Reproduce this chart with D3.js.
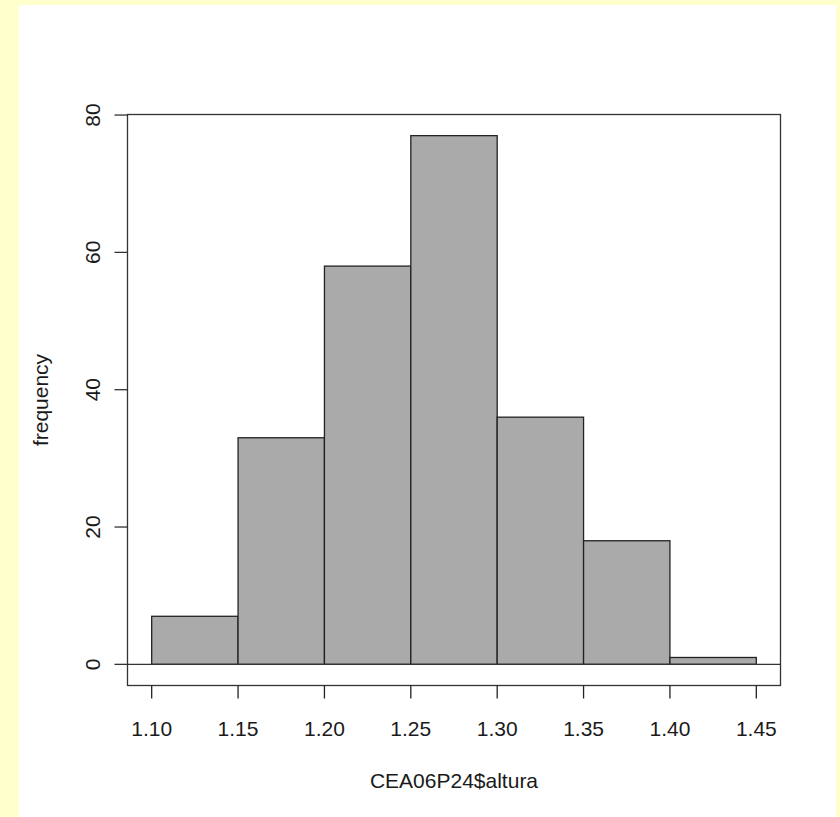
<!DOCTYPE html>
<html>
<head>
<meta charset="utf-8">
<script src="https://cdn.jsdelivr.net/npm/d3@7"></script>
<style>
  body { margin: 0; background: #ffffcc; }
  svg text { font-family: "Liberation Sans", Arial, sans-serif; fill: #1a1a1a; }
</style>
</head>
<body>
<svg id="hist"></svg>
<script>
// bin edges and counts of CEA06P24$altura
const binStarts = [1.10, 1.15, 1.20, 1.25, 1.30, 1.35, 1.40];
const binWidth = 0.05;
const counts = [7, 33, 58, 77, 36, 18, 1];
const xTicks = [1.10, 1.15, 1.20, 1.25, 1.30, 1.35, 1.40, 1.45];
const yTicks = [0, 20, 40, 60, 80];

const width = 840,
      height = 817,
      box = {left: 127.5, right: 780.5, top: 114.5, bottom: 685.5},
      svg = d3.select("#hist")
              .attr("width", width)
              .attr("height", height);

// yellow page with white panel
svg.append("rect").attr("width", width).attr("height", height).attr("fill", "#ffffcc");
svg.append("rect").attr("x", 19).attr("y", 5).attr("width", 817).attr("height", 812).attr("fill", "#ffffff");

// R style: limits stretched by 4%
const maxCount = d3.max(counts);
const xPad = (1.45 - 1.10) * 0.04,
      yPad = maxCount * 0.04;
const x = d3.scaleLinear().domain([1.10 - xPad, 1.45 + xPad]).range([box.left, box.right]);
const y = d3.scaleLinear().domain([-yPad, maxCount + yPad]).range([box.bottom, box.top]);

const bins = binStarts.map((b, i) => ({x0: b, x1: b + binWidth, n: counts[i]}));

svg.append("g").selectAll("rect")
    .data(bins)
    .enter().append("rect")
      .attr("x", (d) => x(d.x0))
      .attr("y", (d) => y(d.n))
      .attr("width", (d) => x(d.x1) - x(d.x0))
      .attr("height", (d) => y(0) - y(d.n))
      .attr("fill", "#aaaaaa")
      .attr("stroke", "#222")
      .attr("stroke-width", 1.3);

// baseline at zero
svg.append("line")
    .attr("x1", box.left).attr("x2", box.right)
    .attr("y1", y(0)).attr("y2", y(0))
    .attr("stroke", "#333").attr("stroke-width", 1.3);

// frame
svg.append("rect")
    .attr("x", box.left).attr("y", box.top)
    .attr("width", box.right - box.left).attr("height", box.bottom - box.top)
    .attr("fill", "none").attr("stroke", "#333").attr("stroke-width", 1.3);

// x axis
const xAxis = svg.append("g");
xAxis.selectAll("line")
    .data(xTicks)
    .enter().append("line")
      .attr("x1", (d) => x(d)).attr("x2", (d) => x(d))
      .attr("y1", box.bottom).attr("y2", box.bottom + 13)
      .attr("stroke", "#222").attr("stroke-width", 1.3);
xAxis.selectAll("text")
    .data(xTicks)
    .enter().append("text")
      .attr("x", (d) => x(d))
      .attr("y", 736)
      .attr("text-anchor", "middle")
      .style("font-size", "21px")
      .text(d3.format(".2f"));

// y axis
const yAxis = svg.append("g");
yAxis.selectAll("line")
    .data(yTicks)
    .enter().append("line")
      .attr("x1", box.left - 13).attr("x2", box.left)
      .attr("y1", (d) => y(d)).attr("y2", (d) => y(d))
      .attr("stroke", "#333").attr("stroke-width", 1.3);
yAxis.selectAll("text")
    .data(yTicks)
    .enter().append("text")
      .attr("transform", (d) => `translate(${[100, y(d)]}) rotate(-90)`)
      .attr("text-anchor", "middle")
      .style("font-size", "21px")
      .text((d) => d);

// axis titles
svg.append("text")
    .attr("x", (box.left + box.right) / 2)
    .attr("y", 788)
    .attr("text-anchor", "middle")
    .style("font-size", "21px")
    .text("CEA06P24$altura");

svg.append("text")
    .attr("transform", `translate(${[48, (box.top + box.bottom) / 2]}) rotate(-90)`)
    .attr("text-anchor", "middle")
    .style("font-size", "21px")
    .text("frequency");
</script>
</body>
</html>
